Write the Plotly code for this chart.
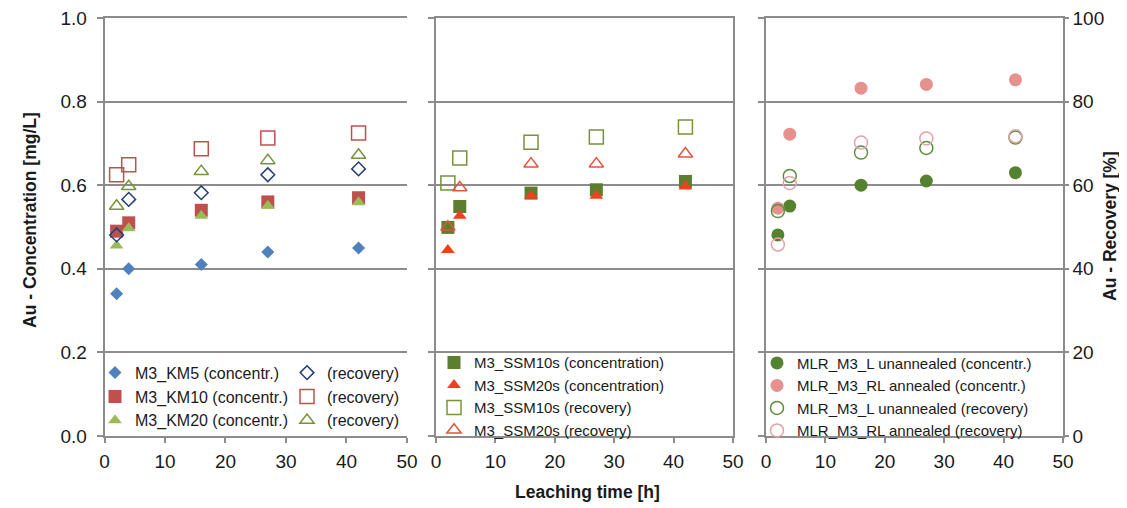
import plotly.graph_objects as go
from plotly.subplots import make_subplots

# ---------------- data ----------------
time_h = [2, 4, 16, 27, 42]

# Panel 1 (KM)
km5_conc = [0.34, 0.40, 0.41, 0.44, 0.45]
km5_rec = [48.1, 56.6, 58.2, 62.5, 63.9]
km10_conc = [0.49, 0.51, 0.54, 0.56, 0.57]
km10_rec = [62.5, 64.9, 68.7, 71.3, 72.5]
km20_conc = [0.456, 0.497, 0.527, 0.551, 0.559]
km20_rec = [55.0, 59.7, 63.3, 65.9, 67.2]

# Panel 2 (SSM)
ssm10_conc = [0.499, 0.549, 0.581, 0.589, 0.609]
ssm20_conc = [0.445, 0.527, 0.575, 0.575, 0.597]
ssm10_rec = [60.5, 66.5, 70.3, 71.5, 73.9]
ssm20_rec = [50.0, 59.4, 65.1, 65.1, 67.5]

# Panel 3 (MLR)
l_conc = [0.481, 0.550, 0.600, 0.610, 0.630]
rl_conc = [0.545, 0.722, 0.832, 0.841, 0.852]
l_rec = [53.8, 62.2, 67.8, 68.9, 71.4]
rl_rec = [45.8, 60.5, 70.2, 71.2, 71.7]

conc_ticks = [0.0, 0.2, 0.4, 0.6, 0.8, 1.0]
rec_ticks = [0, 20, 40, 60, 80, 100]
time_ticks = [0, 10, 20, 30, 40, 50]

# ---------------- figure ----------------
OFF = 8                      # default page body margin
W, H = 1127 - OFF, 508 - OFF
FONT = "Liberation Sans, Arial, sans-serif"
TXT = "#1a1a1a"
GRID = "#8c8c8c"


def px(x):
    return (x - OFF) / W


def py(y):
    return 1 - (y - OFF) / H


fig = make_subplots(rows=1, cols=3, specs=[[{"secondary_y": True}] * 3])


def add(col, y, name, symbol, size, color, secondary, legend, open_=False):
    if open_:
        marker = dict(symbol=symbol + "-open", size=size, color=color,
                      line=dict(width=1.5, color=color))
    else:
        marker = dict(symbol=symbol, size=size, color=color, line=dict(width=0))
    fig.add_trace(go.Scatter(x=time_h, y=y, mode="markers", name=name,
                             marker=marker, legend=legend, cliponaxis=False),
                  row=1, col=col, secondary_y=secondary)


# panel 1
add(1, km5_conc, "M3_KM5 (concentr.)", "diamond", 10, "#4F81BD", False, "legend")
add(1, km10_conc, "M3_KM10 (concentr.)", "square", 13, "#C0504D", False, "legend")
add(1, km20_conc, "M3_KM20 (concentr.)", "triangle-up", 12, "#9BBB59", False, "legend")
add(1, km5_rec, "(recovery)", "diamond", 10.5, "#243F73", True, "legend2", True)
add(1, km10_rec, "(recovery)", "square", 14, "#C0504D", True, "legend2", True)
add(1, km20_rec, "(recovery)", "triangle-up", 12.5, "#77933C", True, "legend2", True)

# panel 2
add(2, ssm10_conc, "M3_SSM10s (concentration)", "square", 13, "#5B7F2E", False, "legend3")
add(2, ssm20_conc, "M3_SSM20s (concentration)", "triangle-up", 12, "#F0401E", False, "legend3")
add(2, ssm10_rec, "M3_SSM10s (recovery)", "square", 14, "#77933C", True, "legend3", True)
add(2, ssm20_rec, "M3_SSM20s (recovery)", "triangle-up", 12.5, "#E0553F", True, "legend3", True)

# panel 3
add(3, l_conc, "MLR_M3_L unannealed (concentr.)", "circle", 13, "#54822F", False, "legend4")
add(3, rl_conc, "MLR_M3_RL annealed (concentr.)", "circle", 13, "#E6918E", False, "legend4")
add(3, l_rec, "MLR_M3_L unannealed (recovery)", "circle", 13, "#5B8E3E", True, "legend4", True)
add(3, rl_rec, "MLR_M3_RL annealed (recovery)", "circle", 13, "#E3A2A9", True, "legend4", True)

xdoms = [[px(104.5), px(407)], [px(436), px(733)], [px(766), px(1063)]]
ydom = [py(436), py(18)]

tickfont = dict(family=FONT, size=19, color=TXT)

layout = dict(
    width=W, height=H,
    margin=dict(l=0, r=0, t=0, b=0, autoexpand=False),
    paper_bgcolor="white", plot_bgcolor="white",
    font=dict(family=FONT, color=TXT),
)

xnames = ["xaxis", "xaxis2", "xaxis3"]
for i, xn in enumerate(xnames):
    layout[xn] = dict(
        domain=xdoms[i], range=[-0.002, 50.01], tickvals=time_ticks, automargin=False,
        showgrid=False, zeroline=False, showline=True, mirror=True,
        linecolor=GRID, linewidth=1.5,
        ticks="outside", ticklen=5, tickwidth=1.5, tickcolor=GRID,
        tickfont=tickfont, ticklabelstandoff=2, ticklabeloverflow="allow",
    )

# primary (concentration) axes: y, y3, y5 ; secondary (recovery): y2, y4, y6
prim = ["yaxis", "yaxis3", "yaxis5"]
sec = ["yaxis2", "yaxis4", "yaxis6"]
for i, yn in enumerate(prim):
    layout[yn] = dict(
        domain=ydom, range=[-0.00005, 1.0], tickvals=conc_ticks, automargin=False,
        ticktext=[f"{v:.1f}" for v in conc_ticks],
        showgrid=True, gridcolor=GRID, gridwidth=1.5,
        zeroline=False, showline=True, linecolor=GRID, linewidth=1.5,
        ticks="outside", ticklen=6, tickwidth=1.5, tickcolor=GRID,
        showticklabels=(i == 0), tickfont=tickfont, ticklabelstandoff=6,
        ticklabeloverflow="allow",
    )
for i, yn in enumerate(sec):
    layout[yn] = dict(
        domain=ydom, range=[-0.005, 100.0], tickvals=rec_ticks, automargin=False,
        showgrid=False, zeroline=False,
        showline=(i > 0), linecolor=GRID, linewidth=1.5,
        ticks=("outside" if i == 2 else ""), ticklen=4, tickwidth=1.5, tickcolor=GRID,
        showticklabels=(i == 2), tickfont=tickfont, ticklabelstandoff=0,
        ticklabeloverflow="allow", side="right",
    )

leg_common = dict(bgcolor="rgba(255,255,255,0)", borderwidth=0,
                  xanchor="left", yanchor="middle", itemclick=False)
layout["legend"] = dict(x=px(95), y=py(396.7),
                        font=dict(family=FONT, size=16, color=TXT), **leg_common)
layout["legend2"] = dict(x=px(287), y=py(396.7),
                         font=dict(family=FONT, size=16, color=TXT), **leg_common)
layout["legend3"] = dict(x=px(434), y=py(396.2),
                         font=dict(family=FONT, size=15, color=TXT), **leg_common)
layout["legend4"] = dict(x=px(757), y=py(396.7),
                         font=dict(family=FONT, size=15, color=TXT), **leg_common)

layout["annotations"] = [
    dict(text="<b>Au - Concentration [mg/L]</b>", x=px(30), y=py(220),
         xref="paper", yref="paper", textangle=-90, showarrow=False,
         font=dict(family=FONT, size=17.5, color=TXT), xanchor="center", yanchor="middle"),
    dict(text="<b>Au - Recovery [%]</b>", x=px(1110), y=py(226),
         xref="paper", yref="paper", textangle=-90, showarrow=False,
         font=dict(family=FONT, size=17.5, color=TXT), xanchor="center", yanchor="middle"),
    dict(text="<b>Leaching time [h]</b>", x=px(587), y=py(492),
         xref="paper", yref="paper", showarrow=False,
         font=dict(family=FONT, size=17.5, color=TXT), xanchor="center", yanchor="middle"),
]

fig.update_layout(**layout)
fig.write_html("out.html")
